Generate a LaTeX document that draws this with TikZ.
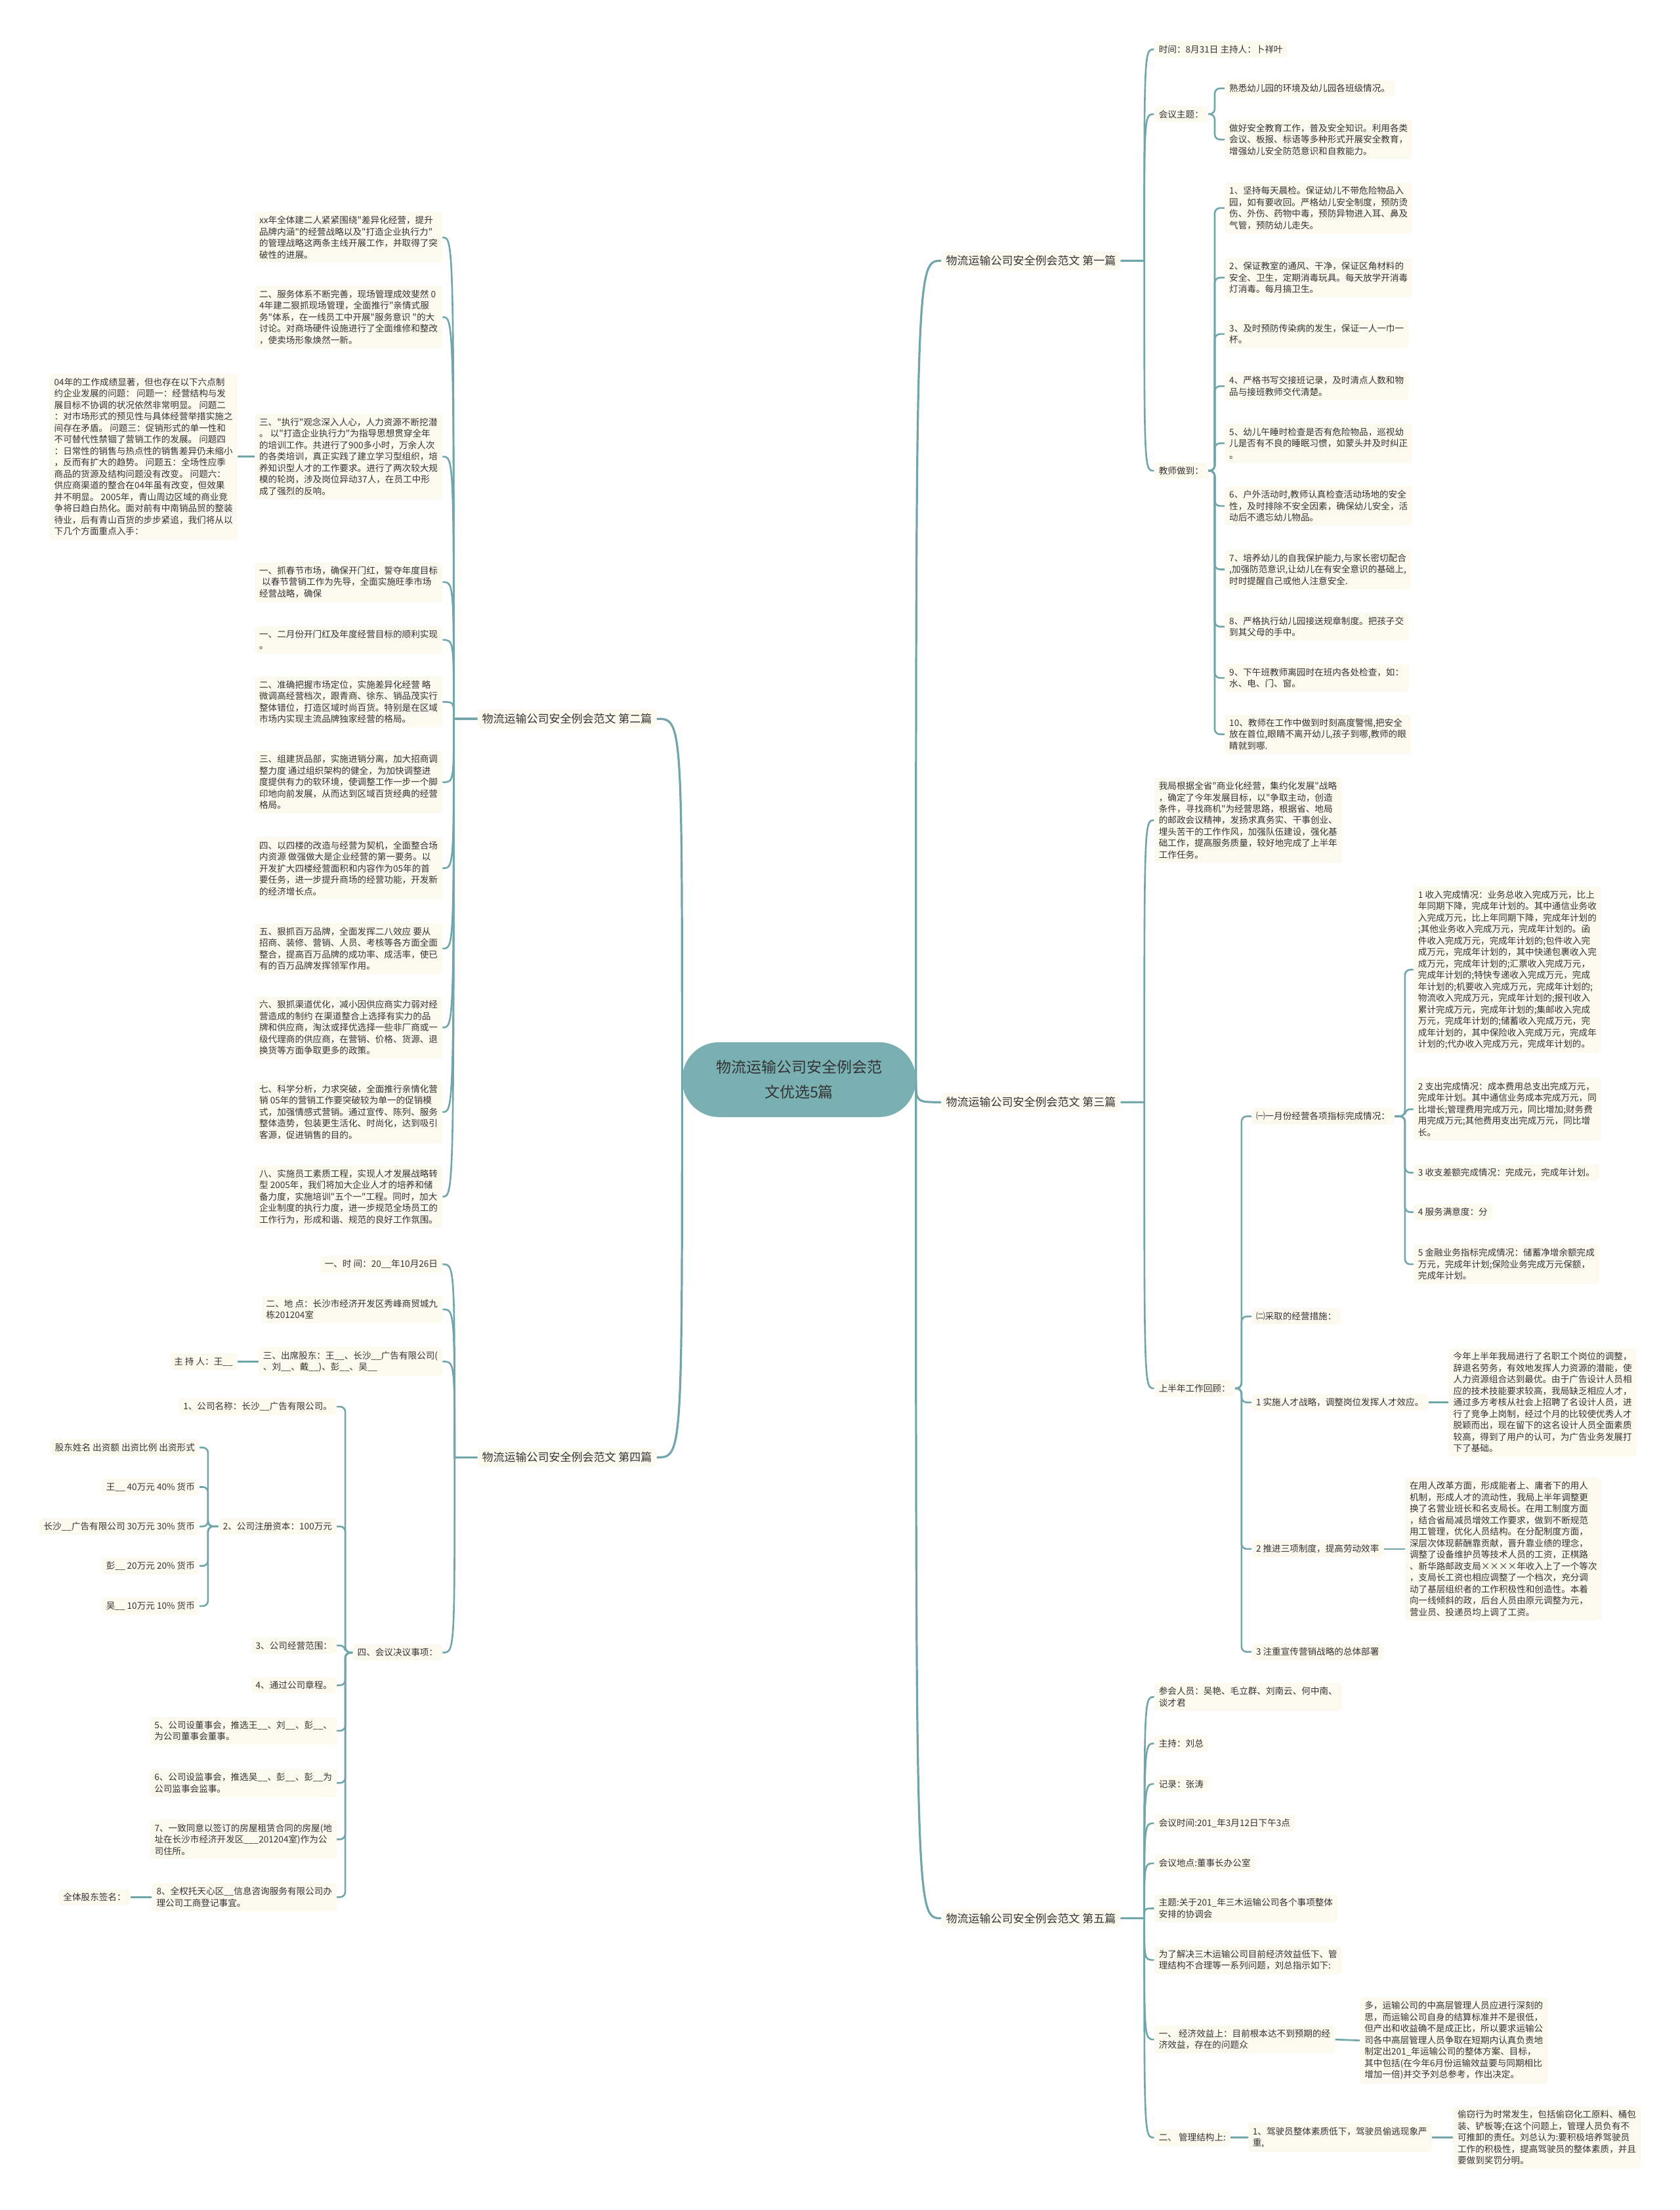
\documentclass[tikz,border=0pt]{standalone}
\usepackage{fontspec}
\newfontfamily\cjk{Noto Sans CJK SC}
\usetikzlibrary{calc,backgrounds}
\definecolor{edgec}{RGB}{112,166,170}
\definecolor{boxc}{RGB}{252,249,238}
\definecolor{rootc}{RGB}{122,176,178}
\definecolor{txtc}{RGB}{51,51,51}
\begin{document}
\begin{tikzpicture}[x=2.1477pt,y=-2.1477pt,
  box/.style={fill=boxc, rounded corners=5pt, inner xsep=7pt, inner ysep=6pt, align=left, text=txtc, font={\cjk\fontsize{13.6}{17.5}\selectfont}},
  lvl/.style={box, font={\cjk\fontsize{17}{22}\selectfont}},
  rootn/.style={fill=rootc, rounded corners=56pt, minimum width=356pt, minimum height=114pt, align=center, text=txtc, font={\cjk\fontsize{23}{38}\selectfont}},
  qedge/.style={draw=edgec, line width=2.6pt},
  bedge/.style={draw=edgec, line width=2.6pt, rounded corners=8pt},
  redge/.style={draw=edgec, line width=3.2pt}]
\useasboundingbox (0,0) rectangle (1192,1568);

% root
\node[rootn] (root) at (567,766) {物流运输公司安全例会范\\文优选5篇};

% level 1
\node[lvl,anchor=west] (B1) at (668,185) {物流运输公司安全例会范文 第一篇};
\node[lvl,anchor=west] (B3) at (668,782) {物流运输公司安全例会范文 第三篇};
\node[lvl,anchor=west] (B5) at (668,1361) {物流运输公司安全例会范文 第五篇};
\node[lvl,anchor=east] (B2) at (466,510) {物流运输公司安全例会范文 第二篇};
\node[lvl,anchor=east] (B4) at (466,1034) {物流运输公司安全例会范文 第四篇};

% ---------- B1 ----------
\node[box,anchor=west] (t1) at (819,35) {时间：8月31日 主持人：卜祥叶};
\node[box,anchor=west] (t2) at (819,81) {会议主题：};
\node[box,anchor=west] (t3) at (819,334) {教师做到：};
\node[box,anchor=west] (m1) at (869,62.7) {熟悉幼儿园的环境及幼儿园各班级情况。};
\node[box,anchor=west] (m2) at (869,99) {做好安全教育工作，普及安全知识。利用各类\\会议、板报、标语等多种形式开展安全教育，\\增强幼儿安全防范意识和自救能力。};
\node[box,anchor=west] (j1) at (869,147.6) {1、坚持每天晨检。保证幼儿不带危险物品入\\园，如有要收回。严格幼儿安全制度，预防烫\\伤、外伤、药物中毒，预防异物进入耳、鼻及\\气管，预防幼儿走失。};
\node[box,anchor=west] (j2) at (869,197) {2、保证教室的通风、干净，保证区角材料的\\安全、卫生，定期消毒玩具。每天放学开消毒\\灯消毒。每月搞卫生。};
\node[box,anchor=west] (j3) at (869,237) {3、及时预防传染病的发生，保证一人一巾一\\杯。};
\node[box,anchor=west] (j4) at (869,274) {4、严格书写交接班记录，及时清点人数和物\\品与接班教师交代清楚。};
\node[box,anchor=west] (j5) at (869,314.5) {5、幼儿午睡时检查是否有危险物品，巡视幼\\儿是否有不良的睡眠习惯，如蒙头并及时纠正\\。};
\node[box,anchor=west] (j6) at (869,359) {6、户外活动时,教师认真检查活动场地的安全\\性，及时排除不安全因素，确保幼儿安全，活\\动后不遗忘幼儿物品。};
\node[box,anchor=west] (j7) at (869,404) {7、培养幼儿的自我保护能力,与家长密切配合\\,加强防范意识,让幼儿在有安全意识的基础上,\\时时提醒自己或他人注意安全.};
\node[box,anchor=west] (j8) at (869,444.6) {8、严格执行幼儿园接送规章制度。把孩子交\\到其父母的手中。};
\node[box,anchor=west] (j9) at (869,481) {9、下午班教师离园时在班内各处检查，如：\\水、电、门、窗。};
\node[box,anchor=west] (j10) at (869,521) {10、教师在工作中做到时刻高度警惕,把安全\\放在首位,眼睛不离开幼儿,孩子到哪,教师的眼\\睛就到哪.};

% ---------- B3 ----------
\node[box,anchor=west] (s1) at (819,582) {我局根据全省"商业化经营，集约化发展"战略\\，确定了今年发展目标，以"争取主动，创造\\条件，寻找商机"为经营思路，根据省、地局\\的邮政会议精神，发扬求真务实、干事创业、\\埋头苦干的工作作风，加强队伍建设，强化基\\础工作，提高服务质量，较好地完成了上半年\\工作任务。};
\node[box,anchor=west] (s2) at (819,985) {上半年工作回顾：};
\node[box,anchor=west] (h1) at (888,792) {㈠一月份经营各项指标完成情况：};
\node[box,anchor=west] (h2) at (888,934) {㈡采取的经营措施：};
\node[box,anchor=west] (h3) at (888,995) {1 实施人才战略，调整岗位发挥人才效应。};
\node[box,anchor=west] (h4) at (888,1099) {2 推进三项制度，提高劳动效率};
\node[box,anchor=west] (h5) at (888,1172) {3 注重宣传营销战略的总体部署};
\node[box,anchor=west] (k1) at (1003,688) {1 收入完成情况：业务总收入完成万元，比上\\年同期下降，完成年计划的。其中通信业务收\\入完成万元，比上年同期下降，完成年计划的\\;其他业务收入完成万元，完成年计划的。函\\件收入完成万元，完成年计划的;包件收入完\\成万元，完成年计划的，其中快递包裹收入完\\成万元，完成年计划的;汇票收入完成万元，\\完成年计划的;特快专递收入完成万元，完成\\年计划的;机要收入完成万元，完成年计划的;\\物流收入完成万元，完成年计划的;报刊收入\\累计完成万元，完成年计划的;集邮收入完成\\万元，完成年计划的;储蓄收入完成万元，完\\成年计划的，其中保险收入完成万元，完成年\\计划的;代办收入完成万元，完成年计划的。};
\node[box,anchor=west] (k2) at (1003,787) {2 支出完成情况：成本费用总支出完成万元，\\完成年计划。其中通信业务成本完成万元，同\\比增长;管理费用完成万元，同比增加;财务费\\用完成万元;其他费用支出完成万元，同比增\\长。};
\node[box,anchor=west] (k3) at (1003,832) {3 收支差额完成情况：完成元，完成年计划。};
\node[box,anchor=west] (k4) at (1003,860) {4 服务满意度：分};
\node[box,anchor=west] (k5) at (1003,897) {5 金融业务指标完成情况：储蓄净增余额完成\\万元，完成年计划;保险业务完成万元保额，\\完成年计划。};
\node[box,anchor=west] (n1) at (1028,995) {今年上半年我局进行了名职工个岗位的调整，\\辞退名劳务，有效地发挥人力资源的潜能，使\\人力资源组合达到最优。由于广告设计人员相\\应的技术技能要求较高，我局缺乏相应人才，\\通过多方考核从社会上招聘了名设计人员，进\\行了竞争上岗制，经过个月的比较使优秀人才\\脱颖而出，现在留下的这名设计人员全面素质\\较高，得到了用户的认可，为广告业务发展打\\下了基础。};
\node[box,anchor=west] (n2) at (997,1099) {在用人改革方面，形成能者上、庸者下的用人\\机制，形成人才的流动性，我局上半年调整更\\换了名营业班长和名支局长。在用工制度方面\\，结合省局减员增效工作要求，做到不断规范\\用工管理，优化人员结构。在分配制度方面，\\深层次体现薪酬靠贡献，晋升靠业绩的理念，\\调整了设备维护员等技术人员的工资，正棋路\\、新华路邮政支局××××年收入上了一个等次\\，支局长工资也相应调整了一个档次，充分调\\动了基层组织者的工作积极性和创造性。本着\\向一线倾斜的政，后台人员由原元调整为元，\\营业员、投递员均上调了工资。};

% ---------- B5 ----------
\node[box,anchor=west] (f1) at (819,1204) {参会人员：吴艳、毛立群、刘南云、何中南、\\谈才君};
\node[box,anchor=west] (f2) at (819,1237) {主持：刘总};
\node[box,anchor=west] (f3) at (819,1265.7) {记录：张涛};
\node[box,anchor=west] (f4) at (819,1293.6) {会议时间:201\_年3月12日下午3点};
\node[box,anchor=west] (f5) at (819,1322) {会议地点:董事长办公室};
\node[box,anchor=west] (f6) at (819,1354) {主题:关于201\_年三木运输公司各个事项整体\\安排的协调会};
\node[box,anchor=west] (f7) at (819,1390.6) {为了解决三木运输公司目前经济效益低下、管\\理结构不合理等一系列问题，刘总指示如下:};
\node[box,anchor=west] (f8) at (819,1447) {一、 经济效益上：目前根本达不到预期的经\\济效益，存在的问题众};
\node[box,anchor=west] (f9) at (819,1516.6) {二、 管理结构上:};
\node[box,anchor=west] (g1) at (965,1447.7) {多，运输公司的中高层管理人员应进行深刻的\\思，而运输公司自身的结算标准并不是很低，\\但产出和收益确不是成正比，所以要求运输公\\司各中高层管理人员争取在短期内认真负责地\\制定出201\_年运输公司的整体方案、目标，\\其中包括(在今年6月份运输效益要与同期相比\\增加一倍)并交予刘总参考，作出决定。};
\node[box,anchor=west] (g2) at (885.6,1516.6) {1、驾驶员整体素质低下，驾驶员偷逃现象严\\重,};
\node[box,anchor=west] (g3) at (1031,1516.6) {偷窃行为时常发生，包括偷窃化工原料、桶包\\装、铲板等;在这个问题上，管理人员负有不\\可推卸的责任。刘总认为:要积极培养驾驶员\\工作的积极性，提高驾驶员的整体素质，并且\\要做到奖罚分明。};

% ---------- B2 ----------
\node[box,anchor=east] (e1) at (314,168.5) {xx年全体建二人紧紧围绕"差异化经营，提升\\品牌内涵"的经营战略以及"打造企业执行力"\\的管理战略这两条主线开展工作，并取得了突\\破性的进展。};
\node[box,anchor=east] (e2) at (314,225) {二、服务体系不断完善，现场管理成效斐然 0\\4年建二狠抓现场管理，全面推行"亲情式服\\务"体系，在一线员工中开展"服务意识 "的大\\讨论。对商场硬件设施进行了全面维修和整改\\，使卖场形象焕然一新。};
\node[box,anchor=east] (e3) at (314,324) {三、"执行"观念深入人心，人力资源不断挖潜\\。 以"打造企业执行力"为指导思想贯穿全年\\的培训工作。共进行了900多小时，万余人次\\的各类培训，真正实践了建立学习型组织，培\\养知识型人才的工作要求。进行了两次较大规\\模的轮岗，涉及岗位异动37人，在员工中形\\成了强烈的反响。};
\node[box,anchor=east] (p04) at (168.5,324) {04年的工作成绩显著，但也存在以下六点制\\约企业发展的问题： 问题一：经营结构与发\\展目标不协调的状况依然非常明显。 问题二\\：对市场形式的预见性与具体经营举措实施之\\间存在矛盾。 问题三：促销形式的单一性和\\不可替代性禁锢了营销工作的发展。 问题四\\：日常性的销售与热点性的销售差异仍未缩小\\，反而有扩大的趋势。 问题五：全场性应季\\商品的货源及结构问题没有改变。 问题六：\\供应商渠道的整合在04年虽有改变，但效果\\并不明显。 2005年，青山周边区域的商业竞\\争将日趋白热化。面对前有中南销品贸的整装\\待业，后有青山百货的步步紧追，我们将从以\\下几个方面重点入手：};
\node[box,anchor=east] (e4) at (314,413) {一、抓春节市场，确保开门红，誓夺年度目标\\\hspace*{.3em}以春节营销工作为先导，全面实施旺季市场\\经营战略，确保};
\node[box,anchor=east] (e5) at (314,454) {一、二月份开门红及年度经营目标的顺利实现\\。};
\node[box,anchor=east] (e6) at (314,498) {二、准确把握市场定位，实施差异化经营 略\\微调高经营档次，跟青商、徐东、销品茂实行\\整体错位，打造区域时尚百货。特别是在区域\\市场内实现主流品牌独家经营的格局。};
\node[box,anchor=east] (e7) at (314,555) {三、组建货品部，实施进销分离，加大招商调\\整力度 通过组织架构的健全，为加快调整进\\度提供有力的软环境，使调整工作一步一个脚\\印地向前发展，从而达到区域百货经典的经营\\格局。};
\node[box,anchor=east] (e8) at (314,616) {四、以四楼的改造与经营为契机，全面整合场\\内资源 做强做大是企业经营的第一要务。以\\开发扩大四楼经营面积和内容作为05年的首\\要任务，进一步提升商场的经营功能，开发新\\的经济增长点。};
\node[box,anchor=east] (e9) at (314,673) {五、狠抓百万品牌，全面发挥二八效应 要从\\招商、装修、营销、人员、考核等各方面全面\\整合，提高百万品牌的成功率、成活率，使已\\有的百万品牌发挥领军作用。};
\node[box,anchor=east] (e10) at (314,729) {六、狠抓渠道优化，减小因供应商实力弱对经\\营造成的制约 在渠道整合上选择有实力的品\\牌和供应商，淘汰或择优选择一些非厂商或一\\级代理商的供应商，在营销、价格、货源、退\\换货等方面争取更多的政策。};
\node[box,anchor=east] (e11) at (314,789) {七、科学分析，力求突破，全面推行亲情化营\\销 05年的营销工作要突破较为单一的促销模\\式，加强情感式营销。通过宣传、陈列、服务\\整体造势，包装更生活化、时尚化，达到吸引\\客源，促进销售的目的。};
\node[box,anchor=east] (e12) at (314,849) {八、实施员工素质工程，实现人才发展战略转\\型 2005年，我们将加大企业人才的培养和储\\备力度，实施培训"五个一"工程。同时，加大\\企业制度的执行力度，进一步规范全场员工的\\工作行为，形成和谐、规范的良好工作氛围。};

% ---------- B4 ----------
\node[box,anchor=east] (d1) at (314,897) {一、时 间：20\_\_年10月26日};
\node[box,anchor=east] (d2) at (314,929) {二、地 点：长沙市经济开发区秀峰商贸城九\\栋201204室};
\node[box,anchor=east] (d3) at (314,966) {三、出席股东：王\_\_、长沙\_\_广告有限公司(\\、刘\_\_、戴\_\_)、彭\_\_、吴\_\_};
\node[box,anchor=east] (zc) at (168.5,966) {主 持 人：王\_\_};
\node[box,anchor=east] (d4) at (314,1172.5) {四、会议决议事项：};
\node[box,anchor=east] (r1) at (239,998) {1、公司名称：长沙\_\_广告有限公司。};
\node[box,anchor=east] (r2) at (239,1083) {2、公司注册资本：100万元};
\node[box,anchor=east] (r3) at (239,1167.5) {3、公司经营范围：};
\node[box,anchor=east] (r4) at (239,1195.7) {4、通过公司章程。};
\node[box,anchor=east] (r5) at (239,1228) {5、公司设董事会，推选王\_\_、刘\_\_、彭\_\_、\\为公司董事会董事。};
\node[box,anchor=east] (r6) at (239,1265) {6、公司设监事会，推选吴\_\_、彭\_\_、彭\_\_为\\公司监事会监事。};
\node[box,anchor=east] (r7) at (239,1305) {7、一致同意以签订的房屋租赁合同的房屋(地\\址在长沙市经济开发区\_\_\_201204室)作为公\\司住所。};
\node[box,anchor=east] (r8) at (239,1346) {8、全权托天心区\_\_信息咨询服务有限公司办\\理公司工商登记事宜。};
\node[box,anchor=east] (qm) at (92.6,1346) {全体股东签名：};
\node[box,anchor=east] (w1) at (141.6,1027) {股东姓名 出资额 出资比例 出资形式};
\node[box,anchor=east] (w2) at (141.6,1055) {王\_\_ 40万元 40\% 货币};
\node[box,anchor=east] (w3) at (141.6,1083) {长沙\_\_广告有限公司 30万元 30\% 货币};
\node[box,anchor=east] (w4) at (141.6,1111) {彭\_\_ 20万元 20\% 货币};
\node[box,anchor=east] (w5) at (141.6,1139.5) {吴\_\_ 10万元 10\% 货币};

% bus coordinates
\coordinate (b1) at (812,185);
\coordinate (b3) at (812,782);
\coordinate (b5) at (812,1361);
\coordinate (b2) at (322,510);
\coordinate (b4) at (322.6,1034);
\coordinate (bt2) at (862,81);
\coordinate (bt3) at (862,334);
\coordinate (bs2) at (881,985);
\coordinate (bh1) at (997,792);
\coordinate (bd4) at (245,1172.5);
\coordinate (br2) at (147.6,1083);

\begin{scope}[on background layer]
\fill[white] (0,0) rectangle (1192,1568);
% root edges
\foreach \c in {B1,B3,B5}
  \draw[redge] (root.east) .. controls (root.east |- \c.west) .. (\c.west);
\foreach \c in {B2,B4}
  \draw[redge] (root.west) .. controls (root.west |- \c.east) .. (\c.east);
% level-2 curves
\foreach \c in {t1,t2,t3}
  \draw[qedge] (B1.east) -- (b1) .. controls (b1 |- \c.west) .. (\c.west);
\foreach \c in {s1,s2}
  \draw[qedge] (B3.east) -- (b3) .. controls (b3 |- \c.west) .. (\c.west);
\foreach \c in {f1,f2,f3,f4,f5,f6,f7,f8,f9}
  \draw[qedge] (B5.east) -- (b5) .. controls (b5 |- \c.west) .. (\c.west);
\foreach \c in {e1,e2,e3,e4,e5,e6,e7,e8,e9,e10,e11,e12}
  \draw[qedge] (B2.west) -- (b2) .. controls (b2 |- \c.east) .. (\c.east);
\foreach \c in {d1,d2,d3,d4}
  \draw[qedge] (B4.west) -- (b4) .. controls (b4 |- \c.east) .. (\c.east);
% brackets
\foreach \c in {m1,m2}
  \draw[bedge] (t2.east) -- (bt2) |- (\c.west);
\foreach \c in {j1,j2,j3,j4,j5,j6,j7,j8,j9,j10}
  \draw[bedge] (t3.east) -- (bt3) |- (\c.west);
\foreach \c in {h1,h2,h3,h4,h5}
  \draw[bedge] (s2.east) -- (bs2) |- (\c.west);
\foreach \c in {k1,k2,k3,k4,k5}
  \draw[bedge] (h1.east) -- (bh1) |- (\c.west);
\foreach \c in {r1,r2,r3,r4,r5,r6,r7,r8}
  \draw[bedge] (d4.west) -- (bd4) |- (\c.east);
\foreach \c in {w1,w2,w3,w4,w5}
  \draw[bedge] (r2.west) -- (br2) |- (\c.east);
% single links
\draw[qedge] (h3.east) -- (n1.west);
\draw[qedge] (h4.east) -- (n2.west);
\draw[qedge] (f8.east) -- (g1.west);
\draw[qedge] (f9.east) -- (g2.west);
\draw[qedge] (g2.east) -- (g3.west);
\draw[qedge] (e3.west) -- (p04.east);
\draw[qedge] (d3.west) -- (zc.east);
\draw[qedge] (r8.west) -- (qm.east);
\end{scope}
\end{tikzpicture}
\end{document}
